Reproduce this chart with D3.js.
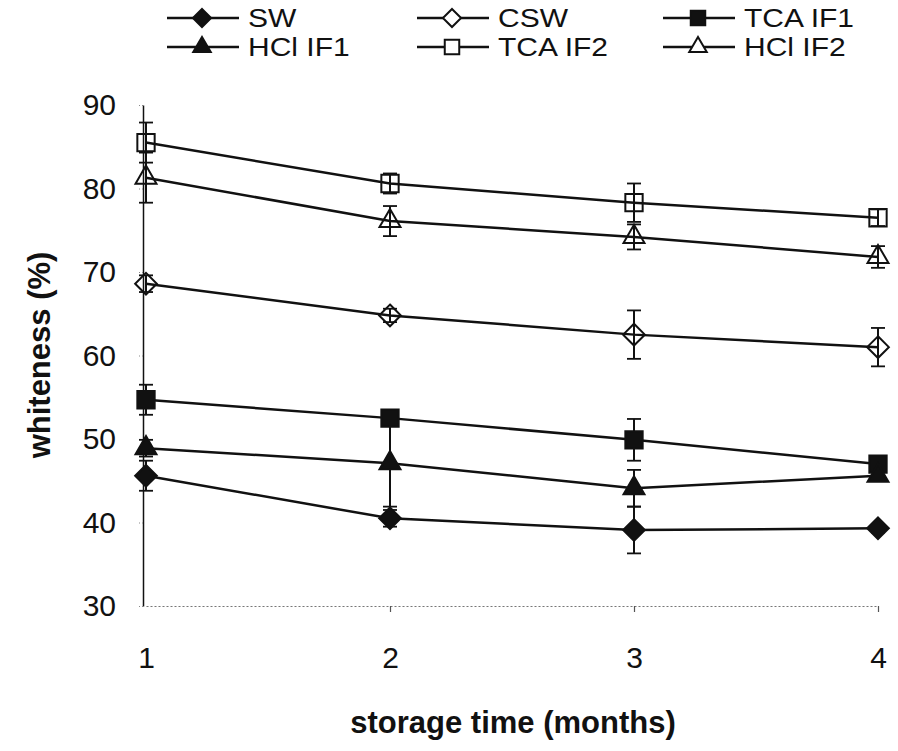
<!DOCTYPE html>
<html lang="en">
<head>
  <meta charset="UTF-8">
  <title>Whiteness vs storage time</title>
  <script src="https://d3js.org/d3.v7.min.js"></script>
  <style>
    body { margin: 0; background: #fff; }
    text { font-family: "Liberation Sans", Arial, sans-serif; fill: #111; }
  </style>
</head>
<body>
<div class="main"></div>
<script>
  // storage time (months)
  const months = [1, 2, 3, 4];
  const yTicks = [30, 40, 50, 60, 70, 80, 90];

  // whiteness (%) per series
  const swValues     = [45.6, 40.5, 39.1, 39.3];
  const cswValues    = [68.6, 64.8, 62.5, 61.0];
  const tcaIf1Values = [54.7, 52.5, 49.9, 47.0];
  const hclIf1Values = [48.9, 47.1, 44.1, 45.6];
  const tcaIf2Values = [85.5, 80.6, 78.3, 76.5];
  const hclIf2Values = [81.3, 76.1, 74.2, 71.8];

  // +/- error per point
  const swErr     = [1.8, 1.0, 2.8, 0.5];
  const cswErr    = [1.0, 0.8, 2.9, 2.3];
  const tcaIf1Err = [1.8, 0.8, 2.5, 0.5];
  const hclIf1Err = [1.0, 5.2, 2.2, 0.5];
  const tcaIf2Err = [2.4, 1.2, 2.3, 1.0];
  const hclIf2Err = [3.0, 1.8, 1.5, 1.3];

  const seriesNames = ["SW", "CSW", "TCA IF1", "HCl IF1", "TCA IF2", "HCl IF2"];

  const width = 898, height = 751;

  let svg = d3.select(".main").append("svg")
      .attr("width", width)
      .attr("height", height);

  let xScale = d3.scaleLinear().domain([1, 4]).range([146, 878]);
  let yScale = d3.scaleLinear().domain([30, 90]).range([606, 105]);

  let series = [
    {name: seriesNames[0], values: swValues,     err: swErr,     shape: d3.symbolDiamond2, size: 300, filled: true},
    {name: seriesNames[1], values: cswValues,    err: cswErr,    shape: d3.symbolDiamond2, size: 300, filled: false},
    {name: seriesNames[2], values: tcaIf1Values, err: tcaIf1Err, shape: d3.symbolSquare,   size: 300, filled: true},
    {name: seriesNames[3], values: hclIf1Values, err: hclIf1Err, shape: d3.symbolTriangle, size: 190, filled: true},
    {name: seriesNames[4], values: tcaIf2Values, err: tcaIf2Err, shape: d3.symbolSquare,   size: 300, filled: false},
    {name: seriesNames[5], values: hclIf2Values, err: hclIf2Err, shape: d3.symbolTriangle, size: 190, filled: false}
  ];

  // x axis: dotted baseline with little ticks
  let xAxis = d3.axisBottom(xScale)
      .tickValues(months)
      .tickFormat(d3.format("d"))
      .tickSize(6)
      .tickSizeOuter(0)
      .tickPadding(35);
  let gx = svg.append("g").attr("transform", "translate(0,606)").call(xAxis);
  gx.select(".domain").attr("stroke", "#777").attr("stroke-width", 1.2).attr("stroke-dasharray", "2,2");
  gx.selectAll(".tick line").attr("stroke", "#555").attr("stroke-width", 1.2);
  gx.selectAll(".tick text").style("font-size", "30px").attr("fill", "#111");
  gx.selectAll(".tick").filter(d => d === 1).select("line").remove();

  // y axis
  let yAxis = d3.axisLeft(yScale)
      .tickValues(yTicks)
      .tickSize(5)
      .tickSizeOuter(0)
      .tickPadding(22);
  let gy = svg.append("g").attr("transform", "translate(143,0)").call(yAxis);
  gy.select(".domain").attr("stroke", "#111").attr("stroke-width", 1.5);
  gy.selectAll(".tick line").attr("stroke", "#888").attr("stroke-width", 1).attr("stroke-dasharray", "1,2");
  gy.selectAll(".tick text").style("font-size", "30px").attr("fill", "#111");

  // axis titles
  svg.append("text")
      .attr("x", 513).attr("y", 733)
      .attr("text-anchor", "middle")
      .style("font-size", "31px").style("font-weight", "bold")
      .text("storage time (months)");
  svg.append("text")
      .attr("transform", "translate(50,355) rotate(-90)")
      .attr("text-anchor", "middle")
      .style("font-size", "31px").style("font-weight", "bold")
      .text("whiteness (%)");

  let line = d3.line()
      .x((d, i) => xScale(months[i]))
      .y(d => yScale(d));

  let plot = svg.append("g");

  series.forEach(s => {
    plot.append("path")
        .datum(s.values)
        .attr("d", line)
        .attr("fill", "none")
        .attr("stroke", "#111")
        .attr("stroke-width", 2.5);
  });

  // error bars
  series.forEach(s => {
    let g = plot.append("g");
    s.values.forEach((v, i) => {
      let cx = xScale(months[i]);
      let top = yScale(v + s.err[i]), bot = yScale(v - s.err[i]);
      g.append("line").attr("x1", cx).attr("x2", cx).attr("y1", top).attr("y2", bot)
          .attr("stroke", "#111").attr("stroke-width", 2);
      [top, bot].forEach(yy => {
        g.append("line").attr("x1", cx - 7).attr("x2", cx + 7).attr("y1", yy).attr("y2", yy)
            .attr("stroke", "#111").attr("stroke-width", 1.8);
      });
    });
  });

  // markers
  series.forEach(s => {
    plot.append("g").selectAll("path")
        .data(s.values)
        .join("path")
        .attr("d", d3.symbol().type(s.shape).size(s.size))
        .attr("transform", (d, i) => `translate(${xScale(months[i])},${yScale(d)})`)
        .attr("fill", s.filled ? "#111" : "none")
        .attr("stroke", "#111")
        .attr("stroke-width", 2);
  });

  // legend, three columns by two rows
  const legendX = [167, 417, 663];
  const legendY = [18, 47];
  series.forEach((s, k) => {
    let lx = legendX[k % 3], ly = legendY[Math.floor(k / 3)];
    let g = svg.append("g").attr("transform", `translate(${lx},${ly})`);
    g.append("line").attr("x1", 0).attr("x2", 72).attr("y1", 0).attr("y2", 0)
        .attr("stroke", "#111").attr("stroke-width", 2.5);
    g.append("path")
        .attr("d", d3.symbol().type(s.shape).size(s.size * 0.7))
        .attr("transform", "translate(35,0)")
        .attr("fill", s.filled ? "#111" : "#fff")
        .attr("stroke", "#111")
        .attr("stroke-width", 2);
    g.append("text")
        .attr("x", 81).attr("y", 0)
        .attr("dy", "0.36em")
        .style("font-size", "25px")
        .attr("transform", "translate(81,0) scale(1.2,1) translate(-81,0)")
        .text(s.name);
  });
</script>
</body>
</html>
